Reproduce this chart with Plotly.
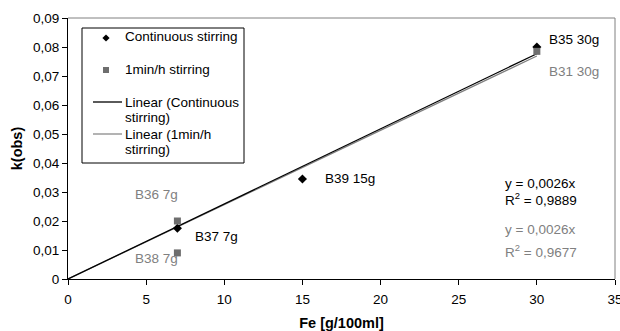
import plotly.graph_objects as go

# Measured rate constants vs. iron dosage
fe_cont = [7, 15, 30]
k_cont = [0.0175, 0.0345, 0.080]
lbl_cont = ["B37 7g", "B39 15g", "B35 30g"]

fe_int = [7, 7, 30]
k_int = [0.020, 0.009, 0.0785]
lbl_int = ["B36 7g", "B38 7g", "B31 30g"]

x_ticks = [0, 5, 10, 15, 20, 25, 30, 35]
y_ticks = [0, 0.01, 0.02, 0.03, 0.04, 0.05, 0.06, 0.07, 0.08, 0.09]

FONT = "Liberation Sans, Arial, sans-serif"
FS = 13.5
GRAY = "#808080"
SQ_GRAY = "#6e6e6e"

W, H = 620, 331
ML, MR, MT, MB = 68, 5, 18, 52
PW, PH = W - ML - MR, H - MT - MB


def px(x):
    # canvas pixel column -> paper fraction
    return (x - ML) / PW


def py(y):
    # canvas pixel row -> paper fraction
    return (H - MB - y) / PH


def slope_origin(xs, ys):
    # least-squares slope of a line forced through the origin
    return sum(a * b for a, b in zip(xs, ys)) / sum(a * a for a in xs)


s_cont = slope_origin(fe_cont, k_cont)
s_int = slope_origin(fe_int, k_int)
fit_x = [0, 30]

fig = go.Figure()
fig.add_trace(go.Scatter(x=fit_x, y=[s_int * v for v in fit_x], mode="lines",
                         name="Linear (1min/h stirring)",
                         line=dict(color=GRAY, width=1.2)))
fig.add_trace(go.Scatter(x=fit_x, y=[s_cont * v for v in fit_x], mode="lines",
                         name="Linear (Continuous stirring)",
                         line=dict(color="black", width=1.3)))
fig.add_trace(go.Scatter(x=fe_cont, y=k_cont, mode="markers", name="Continuous stirring",
                         marker=dict(symbol="diamond", size=7, color="black")))
fig.add_trace(go.Scatter(x=fe_int, y=k_int, mode="markers", name="1min/h stirring",
                         marker=dict(symbol="square", size=7, color=SQ_GRAY)))

# point labels (left edge x, centre y, colour)
label_pos = {
    "B35 30g": (30.66, 0.0826, "black"),
    "B31 30g": (30.66, 0.0714, GRAY),
    "B36 7g": (4.19, 0.0293, GRAY),
    "B37 7g": (8.02, 0.0145, "black"),
    "B38 7g": (4.19, 0.0069, GRAY),
    "B39 15g": (16.33, 0.0345, "black"),
}
for name in lbl_cont + lbl_int:
    lx, ly, col = label_pos[name]
    fig.add_annotation(x=lx, y=ly, text=name, showarrow=False, xanchor="left",
                       font=dict(family=FONT, size=FS, color=col))

# trendline equations
eqs = [
    ("y = 0,0026x", 0.0331, "black"),
    ("R<sup>2</sup> = 0,9889", 0.0276, "black"),
    ("y = 0,0026x", 0.0169, GRAY),
    ("R<sup>2</sup> = 0,9677", 0.0097, GRAY),
]
for txt, ly, col in eqs:
    fig.add_annotation(x=27.85, y=ly, text=txt, showarrow=False, xanchor="left",
                       font=dict(family=FONT, size=FS, color=col))

# plot-area frame (top and right edges)
fig.add_shape(type="line", xref="paper", yref="paper", x0=0, x1=1, y0=1, y1=1,
              line=dict(color=GRAY, width=1))
fig.add_shape(type="line", xref="paper", yref="paper", x0=1, x1=1, y0=0, y1=1,
              line=dict(color=GRAY, width=1))

# legend box with compact Excel-style rows
fig.add_shape(type="rect", xref="paper", yref="paper",
              x0=px(82), x1=px(244), y0=py(163), y1=py(28),
              line=dict(color="black", width=1), fillcolor="white", layer="above")
dx, dy, r = 106, 38, 3.6
fig.add_shape(type="path", xref="paper", yref="paper", layer="above",
              path=(f"M {px(dx)} {py(dy - r)} L {px(dx + r)} {py(dy)} "
                    f"L {px(dx)} {py(dy + r)} L {px(dx - r)} {py(dy)} Z"),
              fillcolor="black", line=dict(width=0))
fig.add_shape(type="rect", xref="paper", yref="paper", layer="above",
              x0=px(103), x1=px(109), y0=py(73), y1=py(67),
              fillcolor=SQ_GRAY, line=dict(width=0))
fig.add_shape(type="line", xref="paper", yref="paper", layer="above",
              x0=px(93), x1=px(122), y0=py(102), y1=py(102),
              line=dict(color="black", width=1.3))
fig.add_shape(type="line", xref="paper", yref="paper", layer="above",
              x0=px(93), x1=px(122), y0=py(134), y1=py(134),
              line=dict(color=GRAY, width=1.2))
legend_rows = [
    ("Continuous stirring", 37),
    ("1min/h stirring", 69),
    ("Linear (Continuous", 102),
    ("stirring)", 117),
    ("Linear (1min/h", 134),
    ("stirring)", 149),
]
for txt, yy in legend_rows:
    fig.add_annotation(xref="paper", yref="paper", x=px(123), y=py(yy), text=txt,
                       showarrow=False, xanchor="left", yanchor="middle",
                       font=dict(family=FONT, size=FS, color="black"))

fig.update_layout(
    width=W, height=H,
    margin=dict(l=ML, r=MR, t=MT, b=MB),
    paper_bgcolor="white", plot_bgcolor="white",
    font=dict(family=FONT, size=FS, color="black"),
    showlegend=False,
    xaxis=dict(range=[0, 35], tickvals=x_ticks, showgrid=False, zeroline=False,
               showline=True, linecolor="black", linewidth=1, ticks="outside",
               ticklen=5, tickcolor="black", ticklabeloverflow="allow",
               ticklabelstandoff=3,
               automargin=False, tickfont=dict(family=FONT, size=FS),
               title=dict(text="<b>Fe [g/100ml]</b>", font=dict(family=FONT, size=14.5), standoff=12)),
    yaxis=dict(range=[0, 0.09], tickvals=y_ticks, showgrid=False,
               zeroline=False, showline=True, linecolor="black", linewidth=1,
               ticks="outside", ticklen=5, tickcolor="black", automargin=False,
               tickfont=dict(family=FONT, size=FS),
               ticktext=["0"] + [f"{v:.2f}".replace(".", ",") for v in y_ticks[1:]],
               title=dict(text="<b>k(obs)</b>", font=dict(family=FONT, size=14.5), standoff=6)),
)

fig.write_html("out.html")
